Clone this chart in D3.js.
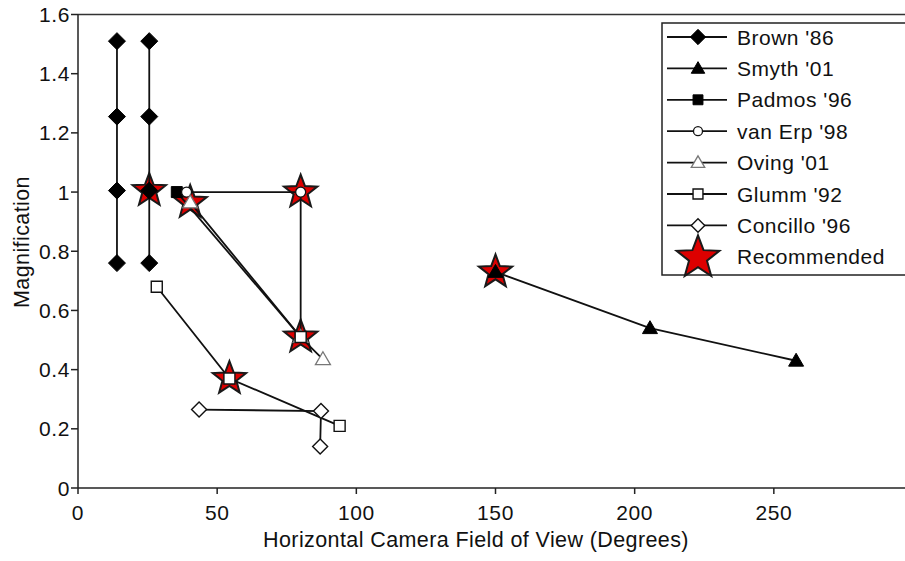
<!DOCTYPE html>
<html>
<head>
<meta charset="utf-8">
<script src="https://cdn.jsdelivr.net/npm/d3@7"></script>
<style>
  body { margin: 0; background: #fff; }
  text { font-family: "Liberation Sans", Arial, sans-serif; fill: #111; }
</style>
</head>
<body>
<div id="chart"></div>
<script>
// Tick values
const xTicks = [0, 50, 100, 150, 200, 250];
const yTicks = [0, 0.2, 0.4, 0.6, 0.8, 1, 1.2, 1.4, 1.6];

// Each study is a list of polylines, each point [field of view, magnification]
const brown = [
  [[14, 1.51], [14, 1.255], [14, 1.005], [14, 0.76]],
  [[25.6, 1.51], [25.6, 1.255], [25.6, 1.005], [25.6, 0.76]]
];
const smyth = [[[150, 0.73], [205.5, 0.54], [258, 0.43]]];
const padmos = [[[35.5, 1.0], [80, 0.51]]];
const vanErp = [[[39, 1.0], [80, 1.0], [80, 0.51]]];
const oving = [[[40.3, 0.965], [80, 0.51], [88, 0.435]]];
const glumm = [[[28.3, 0.68], [54.4, 0.37], [94, 0.21]], [[80, 0.51]]];
const concillo = [[[43.5, 0.265], [87.3, 0.26], [87, 0.14]]];
const recommended = [[25.6, 1.005], [40.3, 0.965], [80, 1.0], [80, 0.51], [54.4, 0.37], [150, 0.73]];

const seriesNames = ["Brown '86", "Smyth '01", "Padmos '96", "van Erp '98", "Oving '01", "Glumm '92", "Concillo '96", "Recommended"];

const width = 905, height = 561;

const xScale = d3.scaleLinear().domain([0, 300]).range([78, 913]);
const yScale = d3.scaleLinear().domain([0, 1.6]).range([488, 14.5]);

// marker shapes
const shapes = {
  diamond: r => `M0,${-r}L${r},0L0,${r}L${-r},0Z`,
  square: r => `M${-r},${-r}h${2 * r}v${2 * r}h${-2 * r}Z`,
  triangle: r => `M0,${-r}L${r},${r * 0.72}L${-r},${r * 0.72}Z`,
  circle: r => d3.symbol(d3.symbolCircle, Math.PI * r * r)(),
  star: R => {
    const r = R * 0.42;
    const pts = d3.range(10).map(k => {
      const a = -Math.PI / 2 + k * Math.PI / 5;
      const rad = k % 2 === 0 ? R : r;
      return [rad * Math.cos(a), rad * Math.sin(a)];
    });
    return "M" + pts.join("L") + "Z";
  }
};

const series = [
  {data: brown,    shape: "diamond",  size: 8.5, fill: "#000", stroke: "#000", sw: 1},
  {data: smyth,    shape: "triangle", size: 7.5, fill: "#000", stroke: "#000", sw: 1},
  {data: padmos,   shape: "square",   size: 5.5, fill: "#000", stroke: "#000", sw: 1},
  {data: vanErp,   shape: "circle",   size: 5,   fill: "#fff", stroke: "#111", sw: 1.3},
  {data: oving,    shape: "triangle", size: 7.5, fill: "#fff", stroke: "#777", sw: 1.3},
  {data: glumm,    shape: "square",   size: 5.5, fill: "#fff", stroke: "#111", sw: 1.4},
  {data: concillo, shape: "diamond",  size: 7.5, fill: "#fff", stroke: "#111", sw: 1.4}
];

const svg = d3.select("#chart").append("svg")
  .attr("width", width)
  .attr("height", height);

// top border of plot area
svg.append("line")
  .attr("x1", xScale(0)).attr("x2", width)
  .attr("y1", yScale(1.6)).attr("y2", yScale(1.6))
  .attr("stroke", "#333").attr("stroke-width", 1.5);

// y axis
svg.append("line")
  .attr("x1", xScale(0)).attr("x2", xScale(0))
  .attr("y1", yScale(1.6)).attr("y2", yScale(0))
  .attr("stroke", "#222").attr("stroke-width", 1.5);
svg.selectAll(".ytick").data(yTicks).enter().append("line")
  .attr("x1", xScale(0) - 7).attr("x2", xScale(0))
  .attr("y1", d => yScale(d)).attr("y2", d => yScale(d))
  .attr("stroke", "#222").attr("stroke-width", 1.5);
svg.selectAll(".ylab").data(yTicks).enter().append("text")
  .attr("x", 70)
  .attr("y", d => yScale(d) + 7.5)
  .attr("text-anchor", "end")
  .style("font-size", "21px")
  .style("letter-spacing", "0.6px")
  .text(d => d3.format("~g")(d));

// x axis
svg.append("line")
  .attr("x1", xScale(0)).attr("x2", width)
  .attr("y1", yScale(0)).attr("y2", yScale(0))
  .attr("stroke", "#222").attr("stroke-width", 1.5);
svg.selectAll(".xtick").data(xTicks).enter().append("line")
  .attr("x1", d => xScale(d)).attr("x2", d => xScale(d))
  .attr("y1", yScale(0)).attr("y2", yScale(0) + 6)
  .attr("stroke", "#222").attr("stroke-width", 1.5);
svg.selectAll(".xlab").data(xTicks).enter().append("text")
  .attr("x", d => xScale(d))
  .attr("y", 520)
  .attr("text-anchor", "middle")
  .style("font-size", "21px")
  .style("letter-spacing", "0.6px")
  .text(d => d);

// axis titles
svg.append("text")
  .attr("x", 476)
  .attr("y", 547)
  .attr("text-anchor", "middle")
  .style("font-size", "21.5px")
  .style("letter-spacing", "0.4px")
  .text("Horizontal Camera Field of View (Degrees)");

svg.append("text")
  .attr("transform", "translate(29,242) rotate(-90)")
  .attr("text-anchor", "middle")
  .style("font-size", "21.5px")
  .style("letter-spacing", "0.4px")
  .text("Magnification");

// recommended stars (behind the study lines)
svg.selectAll(".star").data(recommended).enter().append("path")
  .attr("d", shapes.star(17.5))
  .attr("transform", d => `translate(${xScale(d[0])},${yScale(d[1])})`)
  .attr("fill", "#dd0000")
  .attr("stroke", "#1a1a1a")
  .attr("stroke-width", 2)
  .attr("stroke-linejoin", "miter");

const line = d3.line()
  .x(d => xScale(d[0]))
  .y(d => yScale(d[1]));

// study lines
series.forEach(s => {
  s.data.forEach(poly => {
    if (poly.length < 2) return;
    svg.append("path")
      .attr("d", line(poly))
      .attr("fill", "none")
      .attr("stroke", "#111")
      .attr("stroke-width", 1.8);
  });
});

// study markers
series.forEach(s => {
  svg.append("g").selectAll("path")
    .data(s.data.flat())
    .enter().append("path")
    .attr("d", shapes[s.shape](s.size))
    .attr("transform", d => `translate(${xScale(d[0])},${yScale(d[1])})`)
    .attr("fill", s.fill)
    .attr("stroke", s.stroke)
    .attr("stroke-width", s.sw);
});

// legend
const legend = svg.append("g");
legend.append("rect")
  .attr("x", 662).attr("y", 23)
  .attr("width", 300).attr("height", 252)
  .attr("fill", "#fff")
  .attr("stroke", "#222").attr("stroke-width", 1.5);

const rows = legend.selectAll(".row").data(seriesNames).enter().append("g")
  .attr("transform", (d, i) => `translate(0,${37 + i * 31.4})`);

rows.each(function(d, i) {
  const g = d3.select(this);
  if (i < series.length) {
    const s = series[i];
    g.append("line")
      .attr("x1", 667).attr("x2", 727)
      .attr("stroke", "#111").attr("stroke-width", 1.8);
    g.append("path")
      .attr("d", shapes[s.shape](s.size * 0.9))
      .attr("transform", "translate(698,0)")
      .attr("fill", s.fill)
      .attr("stroke", s.stroke)
      .attr("stroke-width", s.sw);
  } else {
    g.append("path")
      .attr("d", shapes.star(22.5))
      .attr("transform", "translate(698,1)")
      .attr("fill", "#dd0000")
      .attr("stroke", "#1a1a1a")
      .attr("stroke-width", 2);
  }
  g.append("text")
    .attr("x", 737)
    .attr("y", 7.5)
    .style("font-size", "21px")
    .style("letter-spacing", "0.5px")
    .text(d);
});
</script>
</body>
</html>
